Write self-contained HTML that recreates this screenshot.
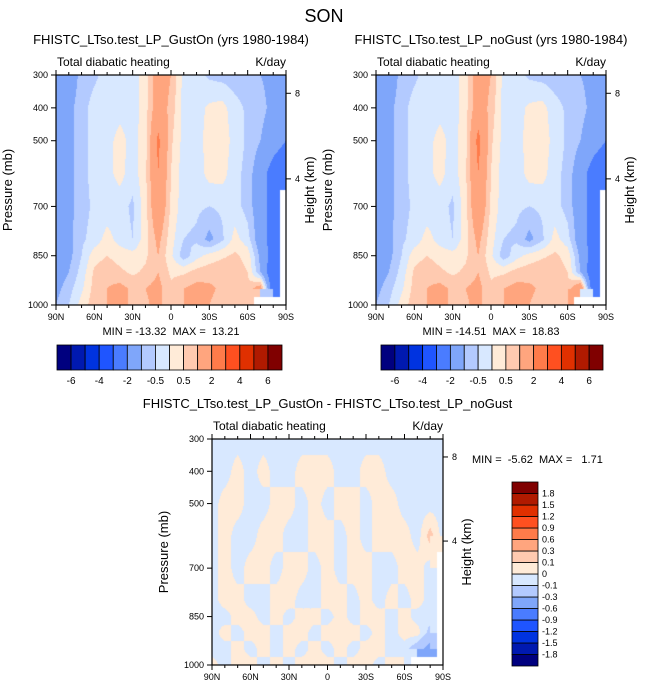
<!DOCTYPE html>
<html><head><meta charset="utf-8"><style>
body{margin:0;background:#fff;}
#wrap{position:relative;width:648px;height:694px;overflow:hidden;font-family:"Liberation Sans",sans-serif;}
canvas{position:absolute;}
svg{position:absolute;left:0;top:0;}
text{white-space:pre;}
</style></head><body>
<div id="wrap">
<canvas id="cA"></canvas>
<canvas id="cB"></canvas>
<canvas id="cD"></canvas>
<svg id="sv" width="648" height="694"></svg>
</div>
<script>
const lats=[90,80,70,60,50,40,30,20,10,0,-10,-20,-30,-40,-50,-60,-70,-80,-90];
const levs=[300,400,500,600,700,800,850,900,950,1000];
const N=NaN;
const fieldA=[
[-1.5,-1.5,-0.8,-0.6,-0.3,-0.3,-0.3,0.3,1.5,1.0,-0.2,-0.3,-0.6,-0.7,-0.8,-0.8,-1.0,-1.2,-1.3],
[-1.5,-1.2,-0.7,-0.3,-0.3,-0.2,-0.3,0.3,1.5,0.8,-0.2,-0.2,0.1,0.2,-0.3,-0.6,-0.8,-1.2,-1.3],
[-1.5,-1.2,-0.7,-0.3,-0.2,0.2,-0.2,0.3,2.2,0.6,-0.2,-0.2,0.2,0.3,-0.2,-0.6,-1.0,-1.5,-2.0],
[-1.5,-1.2,-0.7,-0.3,-0.2,0.2,-0.3,0.4,2.0,0.5,-0.3,-0.3,0.2,0.2,-0.3,-0.7,-1.5,-2.5,-3],
[-1.5,-1.2,-0.7,-0.4,-0.3,-0.3,-0.6,0.3,1.8,0.4,-0.3,-0.4,-0.5,-0.4,-0.3,-0.7,-1.5,-2.5,N],
[-1.5,-1.2,-0.6,-0.3,0.2,-0.2,-0.5,0.3,1.2,0.2,-0.5,-0.6,-1.2,-0.6,0.2,-0.3,-1.5,-2.5,N],
[-1.5,-1.2,-0.5,0.3,0.5,0.3,0.2,0.4,1.0,0.1,-0.8,-0.2,0.2,0.4,0.6,0.3,-1.2,-2.5,N],
[-1.5,-1.0,-0.3,0.6,0.8,0.6,0.4,0.6,1.0,0.4,0.4,0.7,0.8,0.9,0.8,0.5,-1.0,-3,N],
[-1.2,-0.7,-0.1,0.7,1.0,1.2,0.9,1.0,1.2,0.6,1.0,1.2,1.1,0.9,0.6,0.6,1.5,-3,N],
[-1.0,-0.5,0.2,0.8,1.0,1.2,0.9,0.9,1.2,0.6,1.0,1.2,1.0,0.8,0.5,0.5,N,N,N]];
const fieldB=[
[-1.5,-1.5,-0.8,-0.6,-0.3,-0.3,-0.3,0.3,1.5,1.0,-0.2,-0.3,-0.6,-0.7,-0.8,-0.8,-1.0,-1.2,-1.3],
[-1.5,-1.2,-0.7,-0.3,-0.3,-0.2,-0.3,0.3,1.5,0.8,-0.2,-0.2,0.1,0.2,-0.3,-0.6,-0.8,-1.2,-1.3],
[-1.5,-1.2,-0.7,-0.3,-0.2,0.2,-0.2,0.3,2.3,0.6,-0.2,-0.2,0.2,0.3,-0.2,-0.6,-1.0,-1.5,-2.0],
[-1.5,-1.2,-0.7,-0.3,-0.2,0.2,-0.3,0.4,2.0,0.5,-0.3,-0.3,0.2,0.2,-0.3,-0.7,-1.5,-2.5,-3],
[-1.5,-1.2,-0.7,-0.4,-0.3,-0.3,-0.6,0.3,1.8,0.4,-0.3,-0.4,-0.5,-0.4,-0.3,-0.7,-1.5,-2.5,N],
[-1.5,-1.2,-0.6,-0.3,0.2,-0.2,-0.5,0.3,1.2,0.2,-0.5,-0.6,-1.2,-0.6,0.2,-0.3,-1.5,-2.5,N],
[-1.5,-1.2,-0.5,0.3,0.5,0.3,0.2,0.4,1.0,0.1,-0.8,-0.2,0.2,0.4,0.6,0.3,-1.2,-2.5,N],
[-1.5,-1.0,-0.3,0.6,0.8,0.6,0.4,0.6,1.0,0.4,0.4,0.7,0.8,0.9,0.8,0.5,-1.0,-3,N],
[-1.2,-0.7,-0.1,0.7,1.0,1.2,0.9,1.0,1.2,0.6,1.0,1.2,1.1,0.9,0.6,0.6,2.0,-3,N],
[-1.0,-0.5,0.2,0.8,1.0,1.2,0.9,0.9,1.2,0.6,1.0,1.2,1.0,0.8,0.5,0.5,N,N,N]];
const fieldD=[
[-0.05,-0.05,-0.05,-0.05,-0.05,-0.05,-0.05,-0.05,-0.05,-0.05,-0.05,-0.05,-0.05,-0.05,-0.05,-0.05,-0.05,-0.05,-0.05],
[-0.05,-0.05,0.05,-0.05,0.05,-0.05,-0.05,0.05,0.05,0.05,-0.05,-0.05,0.05,0.05,-0.05,-0.05,-0.05,-0.05,-0.05],
[-0.05,0.05,0.05,-0.05,-0.05,0.05,0.05,-0.05,0.05,-0.05,0.05,0.05,-0.05,0.05,0.05,-0.05,-0.05,-0.05,-0.05],
[-0.05,0.05,-0.05,-0.05,0.05,0.05,-0.05,-0.05,0.05,0.05,-0.05,0.05,-0.05,0.05,0.05,0.05,-0.05,0.15,-0.05],
[-0.05,0.05,-0.05,0.05,0.05,-0.05,0.05,0.05,-0.05,0.05,-0.05,0.05,0.05,-0.05,-0.05,0.05,0.05,-0.05,N],
[-0.05,0.05,0.05,-0.05,-0.05,0.05,0.05,-0.05,-0.05,0.05,0.05,-0.05,0.05,-0.05,0.05,-0.05,0.05,-0.05,N],
[-0.05,-0.05,0.05,0.05,-0.05,0.05,-0.05,0.05,0.05,-0.05,0.05,-0.05,0.05,0.05,-0.05,0.05,-0.05,-0.05,N],
[-0.05,0.05,-0.05,0.05,0.05,-0.05,0.05,0.05,-0.05,0.05,0.05,0.05,-0.05,0.05,-0.05,0.05,0.05,-0.15,N],
[-0.05,-0.05,0.05,-0.05,0.05,-0.05,0.05,-0.05,0.05,-0.05,0.05,-0.05,0.05,0.05,-0.05,-0.05,-0.2,-0.4,N],
[0.05,-0.05,0.05,0.05,-0.05,0.05,-0.05,0.05,0.05,0.05,-0.05,0.05,0.05,-0.05,0.05,0.05,N,N,N]];
const levelsMain=[-6,-5,-4,-3,-2,-1,-0.5,0,0.5,1,2,3,4,5,6];
const levelsDiff=[-1.8,-1.5,-1.2,-0.9,-0.6,-0.3,-0.1,0,0.1,0.3,0.6,0.9,1.2,1.5,1.8];
const colors=['#00007f','#0019b0','#0033e0','#1f55ff','#4a7cff','#7fa6fa','#b3caff','#d8e8ff','#ffebd8','#ffcab0','#ffa57e','#ff7b4a','#ff5020','#e03000','#b01a00','#800000'];
const xTicks=[90,60,30,0,-30,-60,-90];
const xTickLabels=['90N','60N','30N','0','30S','60S','90S'];
const pTicks=[300,400,500,700,850,1000];
const zTicks=[8,4];

const sv=document.getElementById('sv');
const NS='http://www.w3.org/2000/svg';
function el(tag,attrs,txt){const e=document.createElementNS(NS,tag);for(const k in attrs)e.setAttribute(k,attrs[k]);if(txt!==undefined)e.textContent=txt;sv.appendChild(e);return e;}
function txt(x,y,s,size,anchor,name,rot){const e=el('text',{x:x,y:y,'font-size':size,'text-anchor':anchor||'middle','font-family':'Liberation Sans, sans-serif',fill:'#000'},s);


if(rot)e.setAttribute('transform','rotate(-90 '+x+' '+y+')');return e;}
function hex(c){return [parseInt(c.slice(1,3),16),parseInt(c.slice(3,5),16),parseInt(c.slice(5,7),16)];}
const rgb=colors.map(hex);
function sample(f,lat,p){
  let fi=(90-lat)/10; let i0=Math.min(17,Math.floor(fi)); let tx=fi-i0;
  let j0=0; while(j0<levs.length-2 && levs[j0+1]<p) j0++;
  let ty=(p-levs[j0])/(levs[j0+1]-levs[j0]);
  const a=f[j0][i0],b=f[j0][i0+1],c=f[j0+1][i0],d=f[j0+1][i0+1];
  if(isNaN(a)||isNaN(b)||isNaN(c)||isNaN(d)){
    const n=f[ty<0.5?j0:j0+1][tx<0.5?i0:i0+1]; if(isNaN(n))return NaN;
    const vals=[a,b,c,d].filter(v=>!isNaN(v)); return vals.reduce((s,v)=>s+v,0)/vals.length;}
  return a*(1-tx)*(1-ty)+b*tx*(1-ty)+c*(1-tx)*ty+d*tx*ty;
}
function drawField(id,f,lv,x0,y0,w,h){
  const cv=document.getElementById(id);cv.width=w;cv.height=h;cv.style.left=x0+'px';cv.style.top=y0+'px';
  const ctx=cv.getContext('2d');const img=ctx.createImageData(w,h);
  for(let j=0;j<h;j++)for(let i=0;i<w;i++){
    const lat=90-180*(i+0.5)/w,p=300+700*(j+0.5)/h;const v=sample(f,lat,p);
    let col=[255,255,255];
    if(!isNaN(v)){let k=0;while(k<lv.length&&v>=lv[k])k++;col=rgb[k];}
    const o=(j*w+i)*4;img.data[o]=col[0];img.data[o+1]=col[1];img.data[o+2]=col[2];img.data[o+3]=255;}
  ctx.putImageData(img,0,0);
}
function zToP(z){return 1013.25*Math.pow(1-2.2577e-5*z*1000,5.2559);}
function axes(x0,y0,w,h,pfx,title,mm,mmPos){
  const X=lat=>x0+(90-lat)/180*w, Y=p=>y0+(p-300)/700*h;
  el('rect',{x:x0,y:y0,width:w,height:h,fill:'none',stroke:'#000','stroke-width':1.2});
  for(let lat=90;lat>=-90;lat-=10){const maj=lat%30===0;const L=maj?5:3;
    el('line',{x1:X(lat),x2:X(lat),y1:y0+h,y2:y0+h+L,stroke:'#000'});
    el('line',{x1:X(lat),x2:X(lat),y1:y0,y2:y0-L,stroke:'#000'});}
  xTicks.forEach((t,i)=>txt(X(t),y0+h+15,xTickLabels[i],9,'middle',pfx+'-x-tick-label'));
  pTicks.forEach(p=>{el('line',{x1:x0-5,x2:x0,y1:Y(p),y2:Y(p),stroke:'#000'});txt(x0-8,Y(p)+3,String(p),9,'end',pfx+'-y-tick-label');});
  zTicks.forEach(z=>{const y=Y(zToP(z));el('line',{x1:x0+w,x2:x0+w+5,y1:y,y2:y,stroke:'#000'});txt(x0+w+9,y+3,String(z),9,'start',pfx+'-height-tick-label');});
  txt(x0-44,y0+h/2,'Pressure (mb)',13,'middle',pfx+'-y-axis-title',true);
  txt(x0+w+28,y0+h/2,'Height (km)',13,'middle',pfx+'-height-axis-title',true);
  txt(x0+w/2,y0-31,title,13,'middle',pfx+'-title');
  txt(x0+1,y0-9,'Total diabatic heating',12,'start',pfx+'-variable-label');
  txt(x0+w,y0-9,'K/day',12,'end',pfx+'-units-label');
  txt(mmPos[0],mmPos[1],mm,11,mmPos[2],pfx+'-min-max');
}
function hbar(x0,y0,w,h,pfx){const bw=w/16;
  colors.forEach((c,i)=>{const r=el('rect',{x:x0+i*bw,y:y0,width:bw,height:h,fill:c,stroke:'#000','stroke-width':0.8});
  });
  levelsMain.forEach((v,i)=>{if(i%2===0)txt(x0+(i+1)*bw,y0+h+14,String(v),10,'middle',pfx+'-colorbar-label');});}
function vbar(x0,y0,w,h,pfx){const bh=h/16;
  colors.forEach((c,i)=>{const r=el('rect',{x:x0,y:y0+(15-i)*bh,width:w,height:bh,fill:c,stroke:'#000','stroke-width':0.8});
  });
  levelsDiff.forEach((v,i)=>txt(x0+w+4,y0+(15-i)*bh+3,String(v),9,'start',pfx+'-colorbar-label'));}

txt(324,22,'SON',18,'middle','figure-title');
drawField('cA',fieldA,levelsMain,56,75,230,230);
drawField('cB',fieldB,levelsMain,376,75,230,230);
drawField('cD',fieldD,levelsDiff,212,439,231,226);
axes(56,75,230,230,'gust-on','FHISTC_LTso.test_LP_GustOn (yrs 1980-1984)','MIN = -13.32  MAX =  13.21',[171,335,'middle']);
axes(376,75,230,230,'no-gust','FHISTC_LTso.test_LP_noGust (yrs 1980-1984)','MIN = -14.51  MAX =  18.83',[491,335,'middle']);
axes(212,439,231,226,'diff','FHISTC_LTso.test_LP_GustOn - FHISTC_LTso.test_LP_noGust','MIN =  -5.62  MAX =   1.71',[472,463,'start']);
hbar(57,345,225,25,'gust-on');
hbar(381,345,222,25,'no-gust');
vbar(512,482,26,184,'diff');
</script>
</body></html>
